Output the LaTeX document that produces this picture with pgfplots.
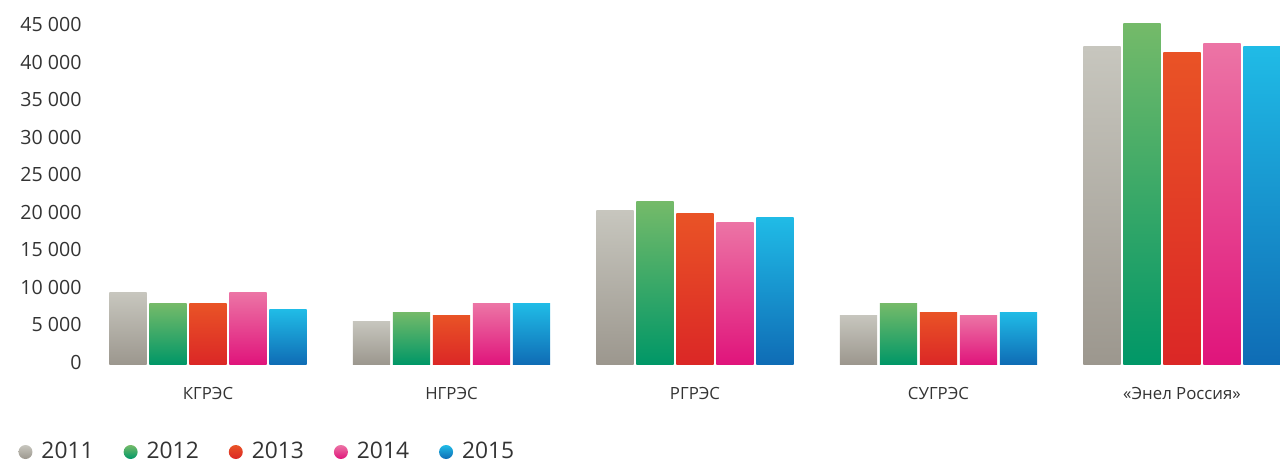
\documentclass[border=0pt]{standalone}
\usepackage{pgfplots}
\pgfplotsset{compat=1.18}
\usepackage{fontspec}
\setmainfont{Open Sans}
\definecolor{aT}{HTML}{C7C6BE}
\definecolor{aB}{HTML}{9C978E}
\definecolor{bT}{HTML}{74BA69}
\definecolor{bB}{HTML}{009767}
\definecolor{cT}{HTML}{E95326}
\definecolor{cB}{HTML}{DB2726}
\definecolor{dT}{HTML}{EC74A5}
\definecolor{dB}{HTML}{E0147B}
\definecolor{eT}{HTML}{20BBE6}
\definecolor{eB}{HTML}{0F6CB5}
\definecolor{txt}{HTML}{333333}
\pgfplotsset{
  sA/.style={draw=none, top color=aT, bottom color=aB, bar shift=-40pt,
    legend image code/.code={\shade[top color=aT,bottom color=aB] (3.5pt,0pt) circle (3.5pt);}},
  sB/.style={draw=none, top color=bT, bottom color=bB, bar shift=-20pt,
    legend image code/.code={\shade[top color=bT,bottom color=bB] (3.5pt,0pt) circle (3.5pt);}},
  sC/.style={draw=none, top color=cT, bottom color=cB, bar shift=0pt,
    legend image code/.code={\shade[top color=cT,bottom color=cB] (3.5pt,0pt) circle (3.5pt);}},
  sD/.style={draw=none, top color=dT, bottom color=dB, bar shift=20pt,
    legend image code/.code={\shade[top color=dT,bottom color=dB] (3.5pt,0pt) circle (3.5pt);}},
  sE/.style={draw=none, top color=eT, bottom color=eB, bar shift=40pt,
    legend image code/.code={\shade[top color=eT,bottom color=eB] (3.5pt,0pt) circle (3.5pt);}},
}
\begin{document}
\begin{tikzpicture}
\useasboundingbox (-49.2pt,-48.75pt) rectangle (590.8pt,182.25pt);
\begin{axis}[
  at={(0,0)}, anchor=south west,
  scale only axis, width=590.5pt, height=172.25pt,
  xmin=-0.45, xmax=4.4, ymin=0, ymax=46000,
  clip=false, scaled y ticks=false,
  axis line style={draw=none}, major tick length=0pt,
  ybar, bar width=18.65pt,
  xtick={0,1,2,3,4},
  xticklabels={КГРЭС,НГРЭС,РГРЭС,СУГРЭС,«Энел Россия»},
  xticklabel style={font=\fontsize{8.4}{10}\selectfont, text=txt, anchor=base, inner sep=0pt, yshift=-17.25pt},
  ytick={0,5000,10000,15000,20000,25000,30000,35000,40000,45000},
  yticklabels={0,5~000,10~000,15~000,20~000,25~000,30~000,35~000,40~000,45~000},
  yticklabel style={font=\fontsize{9.8}{12}\selectfont, text=txt, anchor=base east, inner sep=0pt, xshift=-8.2pt, yshift=-2.25pt},
  legend columns=5,
  legend style={draw=none, fill=none, at={(-0.068,-0.254)}, anchor=west, inner sep=0pt,
    font=\fontsize{11.4}{13}\selectfont, text=txt,
    nodes={inner sep=0pt},
    /tikz/every odd column/.append style={column sep=4.5pt},
    /tikz/every even column/.append style={column sep=15pt}},
]
% legend-bearing bars (КГРЭС)
\addplot[sA] coordinates {(0,9600)};
\addlegendentry{2011}
\addplot[sB] coordinates {(0,8100)};
\addlegendentry{2012}
\addplot[sC] coordinates {(0,8100)};
\addlegendentry{2013}
\addplot[sD] coordinates {(0,9600)};
\addlegendentry{2014}
\addplot[sE] coordinates {(0,7300)};
\addlegendentry{2015}
% НГРЭС
\addplot[sA, forget plot] coordinates {(1,5800)};
\addplot[sB, forget plot] coordinates {(1,7000)};
\addplot[sC, forget plot] coordinates {(1,6600)};
\addplot[sD, forget plot] coordinates {(1,8100)};
\addplot[sE, forget plot] coordinates {(1,8100)};
% РГРЭС
\addplot[sA, forget plot] coordinates {(2,20600)};
\addplot[sB, forget plot] coordinates {(2,21700)};
\addplot[sC, forget plot] coordinates {(2,20100)};
\addplot[sD, forget plot] coordinates {(2,19000)};
\addplot[sE, forget plot] coordinates {(2,19600)};
% СУГРЭС
\addplot[sA, forget plot] coordinates {(3,6600)};
\addplot[sB, forget plot] coordinates {(3,8100)};
\addplot[sC, forget plot] coordinates {(3,7000)};
\addplot[sD, forget plot] coordinates {(3,6600)};
\addplot[sE, forget plot] coordinates {(3,7000)};
% «Энел Россия»
\addplot[sA, forget plot] coordinates {(4,42400)};
\addplot[sB, forget plot] coordinates {(4,45500)};
\addplot[sC, forget plot] coordinates {(4,41700)};
\addplot[sD, forget plot] coordinates {(4,42800)};
\addplot[sE, forget plot] coordinates {(4,42400)};
\end{axis}
\end{tikzpicture}
\end{document}
